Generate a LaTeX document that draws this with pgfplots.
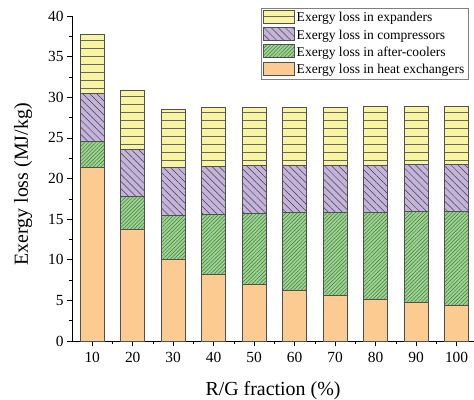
\documentclass[border=0pt]{standalone}
\usepackage{fontspec}
\setmainfont{Liberation Serif}
\usepackage{pgfplots}
\usepackage{pgfplotstable}
\pgfplotsset{compat=1.18}
\usetikzlibrary{patterns.meta}
\definecolor{heC}{HTML}{FBCB92}
\definecolor{acC}{HTML}{9ED393}
\definecolor{coC}{HTML}{C4B4DB}
\definecolor{exC}{HTML}{F9F4A2}
\definecolor{edgeC}{HTML}{505050}
\definecolor{acLine}{HTML}{3F7A3A}
\pgfplotstableread{
x he ac co ex
0 21.4 3.2 5.9 7.2
1 13.7 4.1 5.8 7.2
2 10.0 5.5 5.9 7.1
3 8.2 7.4 5.9 7.2
4 7.0 8.7 5.9 7.15
5 6.2 9.6 5.8 7.2
6 5.6 10.2 5.85 7.15
7 5.1 10.75 5.8 7.2
8 4.7 11.2 5.8 7.15
9 4.4 11.5 5.8 7.2
}\data
\pgfplotsset{
  mybar/.style={draw=edgeC, line width=0.7pt,
    legend image code/.code={\draw[##1] (0bp,-5bp) rectangle (31bp,8bp);}},
}
\begin{document}
\begin{tikzpicture}
\begin{axis}[
  scale only axis, width=402bp, height=325bp,
  ybar stacked, bar width=24bp,
  xmin=-0.5, xmax=9.43, ymin=0, ymax=40,
  xtick={0,...,9}, xticklabels={10,20,30,40,50,60,70,80,90,100},
  minor xtick={0.5,1.5,...,8.5},
  ytick={0,5,...,40}, minor ytick={2.5,7.5,...,37.5},
  axis x line*=bottom, axis y line*=left,
  tick align=outside, major tick length=5bp, minor tick length=3bp,
  tick style={black, line width=0.6pt},
  axis line style={black, line width=0.7pt},
  /pgf/number format/assume math mode=true,
  xlabel={R/G fraction (\%)}, ylabel={Exergy loss (MJ/kg)},
  label style={font=\fontsize{20}{22}\selectfont},
  xlabel style={yshift=-12bp},
  ylabel style={yshift=9bp, xshift=-6bp},
  tick label style={font=\fontsize{15.5}{17}\selectfont},
  xticklabel style={yshift=-3bp},
  legend cell align=left, reverse legend,
  legend style={at={(rel axis cs:0.985,1.025)}, anchor=north east,
    draw=gray, font=\fontsize{13.6}{15}\selectfont, inner sep=1.5bp,
    row sep=1.5bp},
]
\addplot[mybar, fill=heC] table[x=x,y=he]{\data};
\addplot[mybar, fill=acC, postaction={pattern={Lines[angle=45,distance=2.6bp,line width=0.5pt]}, pattern color=acLine}] table[x=x,y=ac]{\data};
\addplot[mybar, fill=coC, postaction={pattern={Lines[angle=-45,distance=5bp,line width=0.5pt]}, pattern color=black!75}] table[x=x,y=co]{\data};
\addplot[mybar, fill=exC, postaction={pattern={Lines[angle=0,distance=8bp,line width=0.5pt]}, pattern color=black!60}] table[x=x,y=ex]{\data};
\legend{Exergy loss in heat exchangers, Exergy loss in after-coolers, Exergy loss in compressors, Exergy loss in expanders}
\end{axis}
\pgfresetboundingbox
\path[use as bounding box] ([xshift=-72bp,yshift=-59bp]current axis.south west) rectangle ([yshift=16bp]current axis.north east);
\end{tikzpicture}
\end{document}
